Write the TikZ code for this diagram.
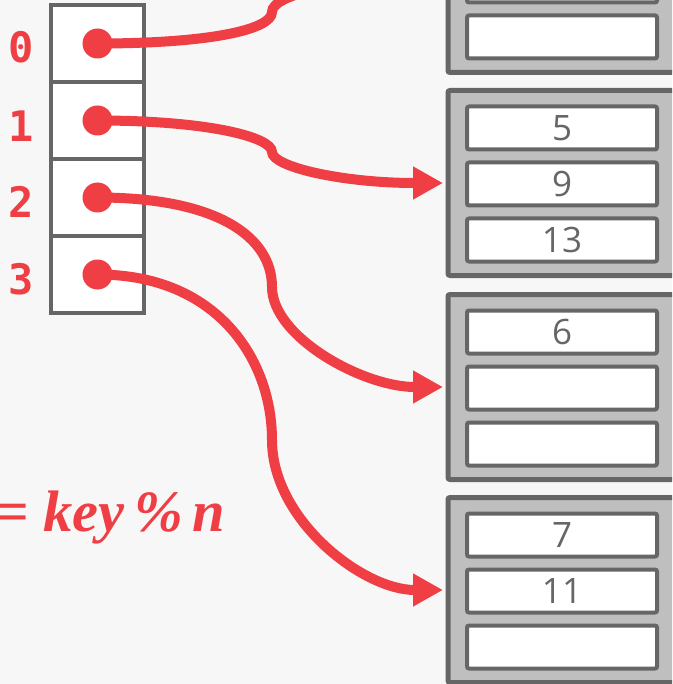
\documentclass[tikz,border=0pt]{standalone}
\usepackage{fontspec}
\usetikzlibrary{arrows.meta}
\newfontfamily\idxfont{DejaVu Sans Mono}
\newfontfamily\numfont{Open Sans}
\newfontfamily\formfont{Liberation Serif}
\definecolor{hred}{HTML}{EF3E44}
\definecolor{hgray}{HTML}{666666}
\definecolor{bfill}{HTML}{BFBFBF}
\definecolor{bgcol}{HTML}{F7F7F7}
\begin{document}
\begin{tikzpicture}[x=1pt,y=-1pt,
  cell/.style={draw=hgray,fill=white,line width=4pt,minimum width=93pt,minimum height=77pt,inner sep=0pt},
  dot/.style={circle,fill=hred,minimum size=30pt,inner sep=0pt},
  idx/.style={text=hred,font=\idxfont\bfseries\fontsize{42}{46}\selectfont,inner sep=0pt},
  bucket/.style={draw=hgray,fill=bfill,line width=5pt,rounded corners=2pt,minimum width=280pt,minimum height=185pt,inner sep=0pt},
  slot/.style={draw=hgray,fill=white,line width=4pt,rounded corners=2pt,minimum width=190pt,minimum height=43pt,inner sep=0pt,text=hgray,font=\numfont\fontsize{35}{38}\selectfont},
  conn/.style={draw=hred,line width=10pt,-{Triangle[length=30pt,width=31pt]}},
]
\useasboundingbox (0,0) rectangle (672,684);
\fill[bgcol] (0,0) rectangle (672,684);
\clip (0,0) rectangle (672,684);

% index array
\node[cell] (c0) at (97.5,43.5) {};
\node[cell] (c1) at (97.5,120.5) {};
\node[cell] (c2) at (97.5,197.5) {};
\node[cell] (c3) at (97.5,274.5) {};
\node[dot] (d0) at (c0.center) {};
\node[dot] (d1) at (c1.center) {};
\node[dot] (d2) at (c2.center) {};
\node[dot] (d3) at (c3.center) {};
\node[idx] (l0) at (21,47) {0};
\node[idx] (l1) at (21,126) {1};
\node[idx] (l2) at (21,202) {2};
\node[idx] (l3) at (21,279) {3};

% buckets
\node[bucket] (b0) at (588,-20) {};
\node[bucket] (b1) at (588,183) {};
\node[bucket] (b2) at (588,387) {};
\node[bucket] (b3) at (588,590) {};
\node[slot] (s01) at (562,-75) {};
\node[slot] (s02) at (562,-19) {};
\node[slot] (s03) at (562,37) {};
\node[slot] (s11) at (562,128) {5};
\node[slot] (s12) at (562,184) {9};
\node[slot] (s13) at (562,240) {13};
\node[slot] (s21) at (562,332) {6};
\node[slot] (s22) at (562,388) {};
\node[slot] (s23) at (562,444) {};
\node[slot] (s31) at (562,535) {7};
\node[slot] (s32) at (562,591) {11};
\node[slot] (s33) at (562,647) {};

% formula
\node[text=hred,font=\formfont\bfseries\itshape\fontsize{58.5}{62}\selectfont,anchor=base west,inner sep=0pt] (f) at (-5,531) {= key\,\%\,n};

% connectors
\coordinate (m0) at (272,12);
\coordinate (m1) at (272,152);
\coordinate (m2) at (272,287);
\coordinate (m3) at (272,440);
\coordinate (t0) at ([xshift=-2.5pt]b0.west);
\coordinate (t1) at ([xshift=-2.5pt]b1.west);
\coordinate (t2) at ([xshift=-2.5pt]b2.west);
\coordinate (t3) at ([xshift=-2.5pt]b3.west);
\draw[conn] (d0.center) .. controls +(110,0) and +(0,18) .. (m0) .. controls +(0,-18) and +(-100,0) .. (t0);
\draw[conn] (d1.center) .. controls +(110,0) and +(0,-15) .. (m1) .. controls +(0,15) and +(-100,0) .. (t1);
\draw[conn] (d2.center) .. controls +(120,0) and +(0,-50) .. (m2) .. controls +(0,50) and +(-80,0) .. (t2);
\draw[conn] (d3.center) .. controls +(120,0) and +(0,-80) .. (m3) .. controls +(0,80) and +(-80,0) .. (t3);
\end{tikzpicture}
\end{document}
